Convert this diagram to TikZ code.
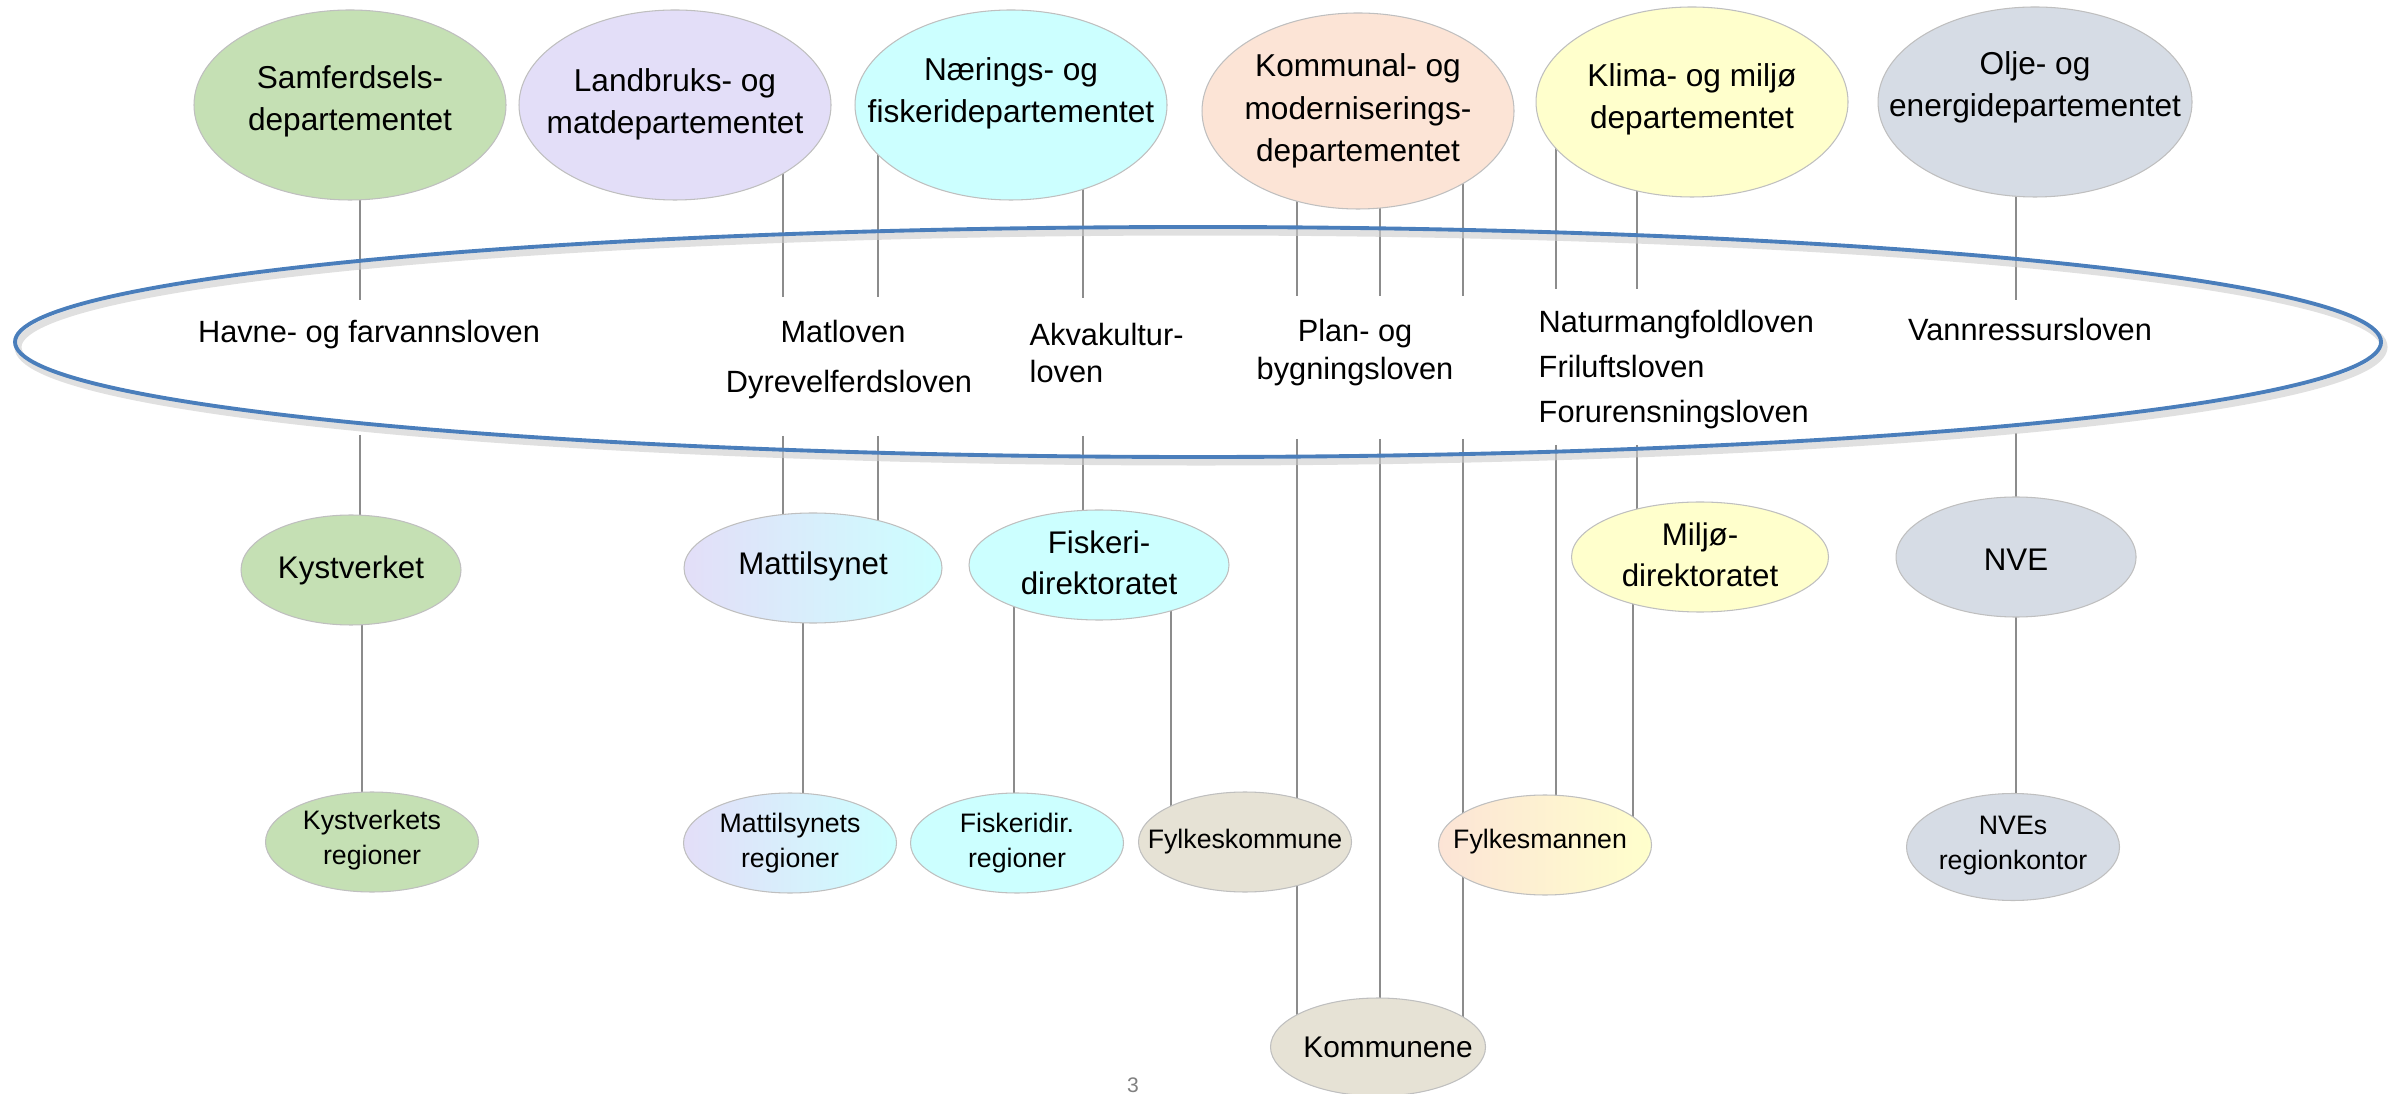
\documentclass[tikz,border=0pt]{standalone}
\usepackage{fontspec}
\setmainfont{Liberation Sans}
\usetikzlibrary{shapes.geometric}
\pgfdeclarelayer{background}
\pgfsetlayers{background,main}

\definecolor{samfgreen}{HTML}{C5E0B4}
\definecolor{lmdlilac}{HTML}{E3DEF8}
\definecolor{nfdcyan}{HTML}{CCFFFF}
\definecolor{kmdpeach}{HTML}{FCE4D6}
\definecolor{kldyellow}{HTML}{FFFFCC}
\definecolor{oedgrey}{HTML}{D6DCE5}
\definecolor{kombeige}{HTML}{E6E2D5}
\definecolor{ringblue}{HTML}{4A7EBB}
\definecolor{linegray}{HTML}{8C8C8C}
\definecolor{ellgray}{HTML}{BFBFBF}

\newcommand{\depfont}{\fontsize{9}{12}\selectfont}
\newcommand{\etatfont}{\fontsize{8.9}{11.5}\selectfont}
\newcommand{\regfont}{\fontsize{7.6}{10}\selectfont}
\newcommand{\lovfont}{\fontsize{8.75}{10.8}\selectfont}

\tikzset{
  boble/.style={ellipse, draw=ellgray, line width=0.3pt, inner sep=0pt},
  dep/.style={boble, minimum width=31.2mm, minimum height=19mm},
  etat/.style={boble, minimum width=25.8mm, minimum height=11mm},
  region/.style={boble, minimum width=21.3mm, minimum height=10mm},
  deptekst/.style={inner sep=0pt, align=center, font=\depfont},
  etattekst/.style={inner sep=0pt, align=center, font=\etatfont},
  regtekst/.style={inner sep=0pt, align=center, font=\regfont},
  lov/.style={inner sep=0pt, align=center, font=\lovfont},
  conn/.style={draw=linegray, line width=0.4pt}
}

\begin{document}
\begin{tikzpicture}[x=0.1mm, y=-0.1mm]
\useasboundingbox (0,0) rectangle (2392,1094);

% departementene
\node[dep, fill=samfgreen] (samf) at (350,105) {};
\node[deptekst] (samf-t) at (350,101) {Samferdsels-\\departementet};
\node[dep, fill=lmdlilac] (lmd) at (675,105) {};
\node[deptekst] (lmd-t) at (675,104) {Landbruks- og\\matdepartementet};
\node[dep, fill=nfdcyan] (nfd) at (1011,105) {};
\node[deptekst] (nfd-t) at (1011,93) {Nærings- og\\fiskeridepartementet};
\node[dep, fill=kmdpeach, minimum height=19.6mm] (kmd) at (1358,111) {};
\node[deptekst] (kmd-t) at (1358,111) {Kommunal- og\\moderniserings-\\departementet};
\node[dep, fill=kldyellow] (kld) at (1692,102) {};
\node[deptekst] (kld-t) at (1692,99) {Klima- og miljø\\departementet};
\node[dep, fill=oedgrey, minimum width=31.4mm] (oed) at (2035,102) {};
\node[deptekst] (oed-t) at (2035,87) {Olje- og\\energidepartementet};

% lovene
\draw[gray!40, opacity=0.6, line width=2pt] (1201,347) ellipse [x radius=118.3mm, y radius=11.5mm];
\node[ellipse, draw=ringblue, line width=1.1pt, inner sep=0pt, minimum width=236.6mm, minimum height=23mm] (lovring) at (1198,342) {};
\node[lov] (havne) at (369,335) {Havne- og farvannsloven};
\node[lov] (matlov) at (843,332) {Matloven};
\node[lov] (dyrev) at (849,385) {Dyrevelferdsloven};
\node[lov, align=left, anchor=west] (akva) at (1029,353) {Akvakultur-\\loven};
\node[lov] (pbl) at (1355,353) {Plan- og\\bygningsloven};
\node[lov, align=left, anchor=west, font=\fontsize{8.75}{12.8}\selectfont] (natur) at (1538,370) {Naturmangfoldloven\\Friluftsloven\\Forurensningsloven};
\node[lov] (vann) at (2030,330) {Vannressursloven};

% direktoratene
\node[etat, fill=samfgreen, minimum width=22mm] (kyst) at (351,570) {};
\node[etattekst] (kyst-t) at (351,570) {Kystverket};
\node[etat, left color=lmdlilac, right color=nfdcyan] (mattil) at (813,568) {};
\node[etattekst] (mattil-t) at (813,566) {Mattilsynet};
\node[etat, fill=nfdcyan, minimum width=26mm] (fdir) at (1099,565) {};
\node[etattekst] (fdir-t) at (1099,563) {Fiskeri-\\direktoratet};
\node[etat, fill=kldyellow, minimum width=25.7mm] (mdir) at (1700,557) {};
\node[etattekst] (mdir-t) at (1700,555) {Miljø-\\direktoratet};
\node[etat, fill=oedgrey, minimum width=24mm, minimum height=12mm] (nve) at (2016,557) {};
\node[etattekst] (nve-t) at (2016,560) {NVE};

% regionalt nivaa
\node[region, fill=samfgreen] (kystreg) at (372,842) {};
\node[regtekst] (kystreg-t) at (372,840) {Kystverkets\\regioner};
\node[region, left color=lmdlilac, right color=nfdcyan] (matreg) at (790,843) {};
\node[regtekst] (matreg-t) at (790,843) {Mattilsynets\\regioner};
\node[region, fill=nfdcyan] (fdreg) at (1017,843) {};
\node[regtekst] (fdreg-t) at (1017,843) {Fiskeridir.\\regioner};
\node[region, fill=kombeige] (fylkom) at (1245,842) {};
\node[regtekst] (fylkom-t) at (1245,842) {Fylkeskommune};
\node[region, left color=kmdpeach, right color=kldyellow] (fylkm) at (1545,845) {};
\node[regtekst] (fylkm-t) at (1540,842) {Fylkesmannen};
\node[region, fill=oedgrey, minimum height=10.7mm] (nvereg) at (2013,847) {};
\node[regtekst] (nvereg-t) at (2013,846) {NVEs\\regionkontor};
\node[region, fill=kombeige, minimum width=21.5mm, minimum height=9.8mm] (kommune) at (1378,1047) {};
\node[inner sep=0pt, font=\fontsize{8.5}{10}\selectfont] (kommune-t) at (1388,1047) {Kommunene};

\node[text=gray, font=\fontsize{6}{7}\selectfont] (side) at (1133,1085) {3};

\foreach \n/\x/\t/\b in {hav/360/300/435, mat1/783/297/436, mat2/878/297/436, akv/1083/298/436,
  pbl1/1297/296/439, pbl2/1380/296/439, pbl3/1463/296/439, nat1/1556/289/445,
  nat2/1637/289/445, vann/2016/300/433}
  {\coordinate (\n-t) at (\x,\t); \coordinate (\n-b) at (\x,\b);}

\begin{pgfonlayer}{background}
\foreach \d/\n in {samf/hav, lmd/mat1, nfd/mat2, nfd/akv, kmd/pbl1, kmd/pbl2, kmd/pbl3, kld/nat1, kld/nat2, oed/vann}
  \draw[conn] (\d.center -| \n-t) -- (\n-t);
\foreach \n/\a in {hav/kyst, mat1/mattil, mat2/mattil, akv/fdir, pbl1/kommune, pbl2/kommune,
  pbl3/kommune, nat1/fylkm, nat2/mdir, vann/nve}
  \draw[conn] (\n-b) -- (\a.center -| \n-b);
\foreach \a/\b/\x in {kyst/kystreg/362, mattil/matreg/803, fdir/fdreg/1014, fdir/fylkom/1171,
  mdir/fylkm/1633, nve/nvereg/2016, fylkom/kommune/1297}
  \draw[conn] (\a.center -| \x,0) -- (\b.center -| \x,0);
\end{pgfonlayer}
\end{tikzpicture}
\end{document}
